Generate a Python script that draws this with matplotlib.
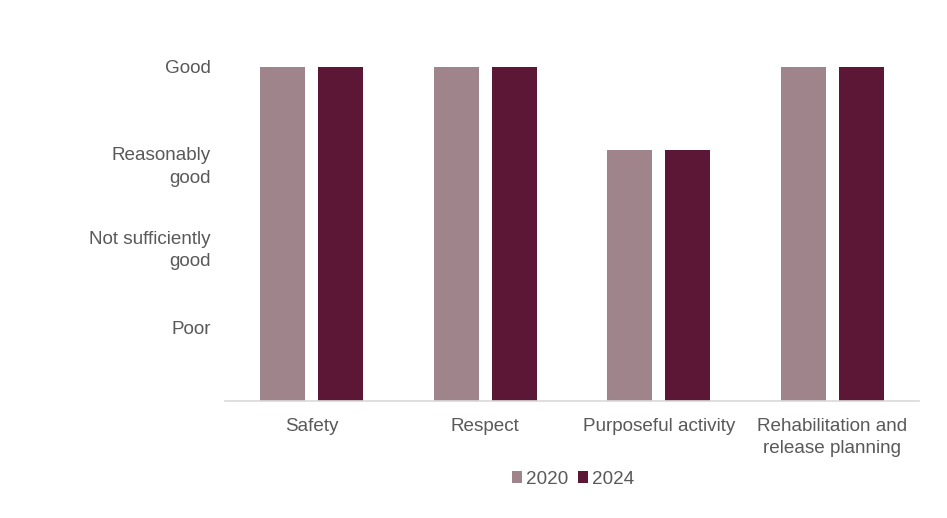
import numpy as np
import matplotlib.pyplot as plt
import matplotlib.transforms as mtransforms

plt.rcParams['font.family'] = ['Liberation Sans', 'DejaVu Sans']

# Data
categories = ["Safety", "Respect", "Purposeful activity", "Rehabilitation and\nrelease planning"]
rating_labels = ["Poor", "Not sufficiently\ngood", "Reasonably\ngood", "Good"]
scores_2020 = [4, 4, 3, 4]
scores_2024 = [4, 4, 3, 4]

col_2020 = "#A0848C"
col_2024 = "#5C1636"
txt = "#595959"
fs = 13.6

fig = plt.figure(figsize=(9.47, 5.18), dpi=100)
ax = fig.add_axes([0.2376, 0.2259, 0.7328, 0.6448])

x = np.arange(len(categories))
w = 0.26
off = 0.167
ax.bar(x - off, scores_2020, width=w, color=col_2020, label="2020")
ax.bar(x + off, scores_2024, width=w, color=col_2024, label="2024")

ax.set_xlim(-0.5, len(categories) - 0.5)
ax.set_ylim(0, 4)
ax.set_xticks(x)
ax.set_xticklabels(categories, fontsize=fs, color=txt, linespacing=1.4)
ax.set_yticks([1, 2, 3, 4])
ax.set_yticklabels(rating_labels, fontsize=fs, color=txt, linespacing=1.4,
                   ha="right")
ax.tick_params(axis="both", length=0)
ax.tick_params(axis="x", pad=12)
ax.tick_params(axis="y", pad=10)

# nudge y labels to sit like the original
shifts = [-10, -12, -12, 0]
for lab, s in zip(ax.get_yticklabels(), shifts):
    lab.set_transform(lab.get_transform() +
                      mtransforms.ScaledTranslation(0, s / 100, fig.dpi_scale_trans))

for side in ["top", "right", "left"]:
    ax.spines[side].set_visible(False)
ax.spines["bottom"].set_color("#D9D9D9")
ax.spines["bottom"].set_linewidth(1.2)

fig.legend(loc="center", bbox_to_anchor=(573 / 947, 1 - 479 / 518), ncol=2,
           frameon=False, fontsize=fs, labelcolor=txt, handlelength=0.55,
           handleheight=0.55, handletextpad=0.2, columnspacing=0.5)

fig.savefig("out.png", dpi=100)
